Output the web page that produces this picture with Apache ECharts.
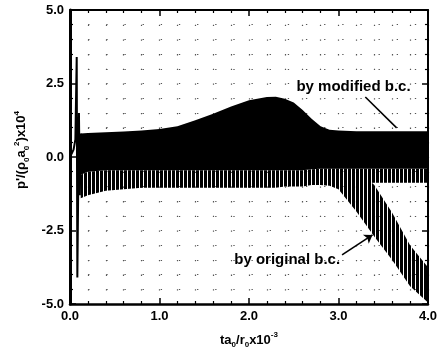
<!DOCTYPE html>
<html>
<head>
<meta charset="utf-8">
<script src="https://cdn.jsdelivr.net/npm/echarts@6/dist/echarts.min.js"></script>
<style>html,body{margin:0;padding:0;background:#fff;}#c{width:440px;height:357px;}</style>
</head>
<body>
<div id="c"></div>
<script>
// ---- data ----
const xTicks = [0, 1, 2, 3, 4];
const yTicks = [-5, -2.5, 0, 2.5, 5];

// initial transient (single trace)
const tStart = [0, 0.02, 0.04, 0.06, 0.075, 0.082, 0.1, 0.11, 0.12];
const vStart = [0, 0.05, 0.25, 0.6, 3.4, -4.1, 1.5, -1.3, 0.8];

// oscillation envelope shared by both b.c. (and modified b.c. to the end)
const tBand    = [0.12, 0.2, 0.4, 0.6, 0.8, 1.0, 1.2, 1.4, 1.6, 1.8, 2.0, 2.2, 2.3, 2.4, 2.5, 2.6, 2.7, 2.8, 2.9, 3.0, 3.2, 3.4, 3.6, 3.8, 4.0];
const modUpper = [0.8, 0.82, 0.84, 0.87, 0.9, 0.95, 1.05, 1.25, 1.47, 1.72, 1.93, 2.04, 2.05, 1.98, 1.85, 1.6, 1.3, 1.05, 0.93, 0.9, 0.88, 0.88, 0.88, 0.88, 0.88];
const coreLower = [-0.6, -0.5, -0.45, -0.45, -0.45, -0.45, -0.45, -0.45, -0.45, -0.45, -0.45, -0.45, -0.45, -0.45, -0.45, -0.45, -0.42, -0.4, -0.4, -0.4, -0.4, -0.4, -0.4, -0.4, -0.4];
const modLower = [-1.4, -1.3, -1.15, -1.1, -1.05, -1.05, -1.05, -1.05, -1.05, -1.05, -1.05, -1.05, -1.05, -1.0, -1.0, -1.0, -0.95, -0.95, -0.9, -0.9, -0.9, -0.88, -0.88, -0.88, -0.88];

// original b.c. diverging envelope
const tOrig     = [2.8, 2.9, 3.0, 3.2, 3.4, 3.6, 3.8, 4.0];
const origUpper = [-0.4, -0.4, -0.4, -0.4, -0.95, -1.9, -3.0, -3.75];
const origLower = [-0.95, -0.98, -1.1, -1.85, -2.7, -3.5, -4.4, -4.95];

// annotations
const noteText  = ['by modified b.c.', 'by original b.c.'];
const noteAt    = [[2.53, 2.38], [1.835, -3.5]];
const arrowFrom = [[3.30, 2.04], [3.04, -3.33]];
const arrowTo   = [[3.65, 0.99], [3.38, -2.65]];
const arrowHead = ['none', 'arrow'];

// ---- styling helpers ----
const stripe = document.createElement('canvas');
stripe.width = 4; stripe.height = 2;
(function(){ const g = stripe.getContext('2d'); g.fillStyle = '#000'; g.fillRect(0,0,3,2); })();
const stripeFill = { image: stripe, repeat: 'repeat' };

const FONT = 'Liberation Sans, Arial, Helvetica, sans-serif';

function bandSeries(name, ts, up, lo, fill, z) {
  return {
    name: name, type: 'custom', z: z, clip: true, silent: true,
    data: ts.map((t, i) => [t, lo[i], up[i]]),
    renderItem: function (params, api) {
      if (params.dataIndex !== 0) return null;
      const pts = [];
      for (let i = 0; i < ts.length; i++) pts.push(api.coord([ts[i], up[i]]));
      for (let i = ts.length - 1; i >= 0; i--) pts.push(api.coord([ts[i], lo[i]]));
      return { type: 'polygon', shape: { points: pts }, style: { fill: fill, stroke: null } };
    }
  };
}

const dotted = (period) => ({ show: true, lineStyle: { color: '#555', width: 1.2, type: [1.3, period - 1.3] } });
const richLab = {
  m: { fontSize: 13, fontWeight: 'bold', fontFamily: FONT, color: '#000', verticalAlign: 'middle', lineHeight: 18 },
  sub: { fontSize: 8, fontWeight: 'bold', fontFamily: FONT, color: '#000', verticalAlign: 'bottom', lineHeight: 18 },
  sup: { fontSize: 8, fontWeight: 'bold', fontFamily: FONT, color: '#000', verticalAlign: 'top', lineHeight: 18 }
};
const axLabel = { color: '#000', fontWeight: 'bold', fontSize: 13, fontFamily: FONT, formatter: v => v.toFixed(1) };
const tickCfg = { show: true, inside: true, length: 6, lineStyle: { color: '#000', width: 1.5 } };
const minorCfg = { show: true, splitNumber: 5, length: 3, lineStyle: { color: '#000', width: 1.2 } };

const chart = echarts.init(document.getElementById('c'), null, { renderer: 'canvas' });
chart.setOption({
  animation: false,
  backgroundColor: '#fff',
  grid: { left: 70, right: 6, top: 10, bottom: 53 },
  xAxis: [{
    type: 'value', min: xTicks[0], max: xTicks[xTicks.length - 1], interval: 1, position: 'bottom',
    axisLine: { show: true, onZero: false, lineStyle: { color: '#000', width: 2.5 } },
    axisTick: tickCfg, minorTick: minorCfg,
    axisLabel: Object.assign({ margin: 6 }, axLabel),
    splitLine: dotted(14.7), minorSplitLine: dotted(14.7),
    name: '{m|ta}{sub|0}{m|/r}{sub|0}{m|x10}{sup|-3}', nameLocation: 'middle', nameGap: 27,
    nameTextStyle: { rich: richLab }
  }, {
    type: 'value', min: xTicks[0], max: xTicks[xTicks.length - 1], interval: 1, position: 'top',
    axisLine: { show: true, onZero: false, lineStyle: { color: '#000', width: 2 } },
    axisTick: tickCfg, minorTick: minorCfg,
    axisLabel: { show: false }, splitLine: { show: false }
  }],
  yAxis: [{
    type: 'value', min: yTicks[0], max: yTicks[yTicks.length - 1], interval: 2.5, position: 'left',
    axisLine: { show: true, onZero: false, lineStyle: { color: '#000', width: 3 } },
    axisTick: tickCfg, minorTick: minorCfg,
    axisLabel: Object.assign({ margin: 6 }, axLabel),
    splitLine: dotted(18.15), minorSplitLine: dotted(18.15),
    name: "{m|p'/(ρ}{sub|0}{m|a}{sub|0}{sup|2}{m|)x10}{sup|4}", nameLocation: 'middle', nameGap: 29,
    nameTextStyle: { rich: richLab, padding: [0, 0, 0, 14] }
  }, {
    type: 'value', min: yTicks[0], max: yTicks[yTicks.length - 1], interval: 2.5, position: 'right',
    axisLine: { show: true, onZero: false, lineStyle: { color: '#000', width: 2 } },
    axisTick: tickCfg, minorTick: minorCfg,
    axisLabel: { show: false }, splitLine: { show: false }
  }],
  series: [
    bandSeries('orig', tOrig, origUpper, origLower, stripeFill, 3),
    bandSeries('fringe', tBand, coreLower, modLower, stripeFill, 4),
    bandSeries('core', tBand, modUpper, coreLower, '#000', 5),
    {
      name: 'start', type: 'line', z: 6, showSymbol: false, symbol: 'none',
      data: tStart.map((t, i) => [t, vStart[i]]),
      lineStyle: { color: '#000', width: 2 },
      markLine: {
        silent: true, symbolSize: 8, animation: false,
        lineStyle: { color: '#000', width: 1.6, type: 'solid' },
        label: { show: false },
        data: arrowFrom.map((f, i) => [{ coord: f, symbol: 'none' }, { coord: arrowTo[i], symbol: arrowHead[i] }])
      },
      markPoint: {
        silent: true, symbol: 'circle', symbolSize: 0,
        data: noteText.map((s, i) => ({
          coord: noteAt[i], value: s,
          label: { show: true, position: 'right', distance: 0, formatter: s, color: '#000', fontSize: 15, fontWeight: 'bold', fontFamily: FONT }
        }))
      }
    }
  ]
});
</script>
</body>
</html>
